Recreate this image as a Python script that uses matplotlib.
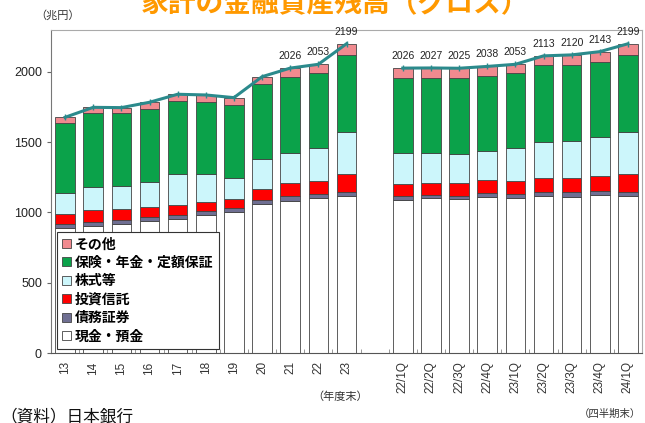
import numpy as np
import matplotlib.pyplot as plt

plt.rcParams['font.family'] = ['Liberation Sans', 'Noto Sans CJK JP']

# 年度末 (FY13-23) と 四半期末 (22/1Q-24/1Q), 兆円
nendo = ['13', '14', '15', '16', '17', '18', '19', '20', '21', '22', '23']
shihanki = ['22/1Q', '22/2Q', '22/3Q', '22/4Q', '23/1Q', '23/2Q', '23/3Q', '23/4Q', '24/1Q']

genkin = [887, 903, 917, 941, 953, 981, 1000, 1060, 1083, 1100, 1119,
          1088, 1100, 1095, 1112, 1100, 1119, 1112, 1124, 1119]
saimu = [28, 31, 29, 24, 29, 29, 29, 28, 36, 31, 28,
         29, 24, 24, 28, 31, 28, 31, 28, 28]
toshin = [71, 83, 76, 71, 73, 66, 64, 76, 88, 94, 124,
          85, 87, 92, 90, 94, 100, 99, 109, 124]
kabu = [154, 166, 166, 182, 218, 197, 151, 214, 218, 231, 303,
        218, 214, 204, 209, 231, 256, 266, 273, 303]
hoken = [494, 522, 519, 520, 521, 512, 520, 533, 538, 533, 545,
         538, 533, 541, 531, 533, 545, 540, 538, 545]
sonota = [42, 42, 38, 45, 46, 50, 52, 54, 63, 64, 80,
          68, 69, 69, 68, 64, 65, 72, 71, 80]

# 合計ラベル
gokei_label = ['', '', '', '', '', '', '', '', '2026', '2053', '2199',
               '2026', '2027', '2025', '2038', '2053', '2113', '2120', '2143', '2199']

series = [
    ('現金・預金', genkin, 'white'),
    ('債務証券', saimu, '#6f6f92'),
    ('投資信託', toshin, '#ff0000'),
    ('株式等', kabu, '#ccf6fb'),
    ('保険・年金・定額保証', hoken, '#0ba24a'),
    ('その他', sonota, '#f08a8f'),
]

x = list(range(len(nendo))) + list(range(len(nendo) + 1, len(nendo) + 1 + len(shihanki)))
x = np.array(x)
labels = nendo + shihanki

fig = plt.figure(figsize=(6.45, 4.23), dpi=100)
ax = fig.add_axes([51/645, 70/423, 591/645, 323/423])

bottom = np.zeros(len(x))
handles = []
for name, vals, col in series:
    vals = np.array(vals, dtype=float)
    b = ax.bar(x, vals, bottom=bottom, width=0.7, color=col,
               edgecolor='#444444', linewidth=0.6, label=name)
    handles.append(b)
    bottom = bottom + vals

total = bottom
na = len(nendo)
ax.plot(x[:na], total[:na], color='#2b8a8c', lw=2.2, marker='|', ms=4, zorder=5)
ax.plot(x[na:], total[na:], color='#2b8a8c', lw=2.2, marker='|', ms=4, zorder=5)

for xi, t, lab in zip(x, total, gokei_label):
    if lab:
        ax.annotate(lab, (xi, t), xytext=(0, 5), textcoords='offset points',
                    ha='center', va='bottom', fontsize=7.5, color='#222222')

ax.set_xlim(-0.42, x[-1] + 0.4)
ax.set_ylim(0, 2297)
ax.set_yticks([0, 500, 1000, 1500, 2000])
ax.tick_params(axis='y', labelsize=9, length=3, color='#666666', labelcolor='#222222')
ax.set_xticks(x)
ax.set_xticklabels(labels, rotation=90, fontsize=8.5, color='#333333')
ax.tick_params(axis='x', length=0, pad=6)
ax.set_xticks(np.arange(-0.5, x[-1] + 1, 1.0), minor=True)
ax.tick_params(axis='x', which='minor', direction='in', length=3, color='#888888')

for s in ['top', 'right']:
    ax.spines[s].set_color('#aaaaaa')
ax.spines['left'].set_color('#777777')
ax.spines['bottom'].set_color('#555555')

leg = ax.legend(handles[::-1], [s[0] for s in series][::-1],
                loc='lower left', bbox_to_anchor=(0.01, 0.012), borderaxespad=0,
                prop={'size': 10, 'weight': 'bold'},
                handlelength=0.6, handleheight=0.6, handletextpad=0.3,
                labelspacing=0.32, fancybox=False, edgecolor='#333333', framealpha=1,
                borderpad=0.4)
leg.get_frame().set_linewidth(0.8)
leg.set_zorder(10)

fig.text(0.52, 1 - 4/423, '家計の金融資産残高（グロス）', ha='center', va='center',
         fontsize=20, fontweight='bold', color='#ff9900')
fig.text(58/645, 1 - 15/423, '（兆円）', ha='center', va='center', fontsize=8, color='#333333')
fig.text(340/645, 1 - 397/423, '（年度末）', ha='center', va='center', fontsize=8, color='#333333')
fig.text(610/645, 1 - 414/423, '（四半期末）', ha='center', va='center', fontsize=7.5, color='#333333')
fig.text(0.0, 1 - 416/423, '（資料）日本銀行', ha='left', va='center', fontsize=12, color='#111111')

fig.savefig('out.png', dpi=100)
